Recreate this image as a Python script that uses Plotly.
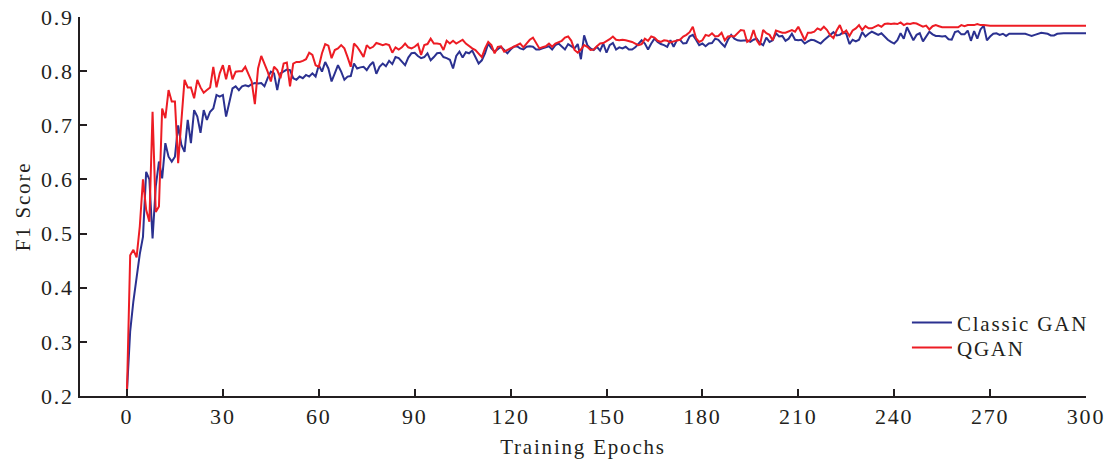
import plotly.graph_objects as go

# Training epochs 0..300
epochs = list(range(0, 301))

# F1 score per epoch, Classic GAN
classic_gan = [
    0.21, 0.32, 0.375, 0.42, 0.462, 0.494, 0.614, 0.60, 0.491, 0.587,
    0.633, 0.602, 0.667, 0.642, 0.633, 0.642, 0.70, 0.664, 0.651, 0.71,
    0.667, 0.728, 0.716, 0.686, 0.728, 0.71, 0.725, 0.731, 0.756, 0.753,
    0.756, 0.716, 0.744, 0.768, 0.772, 0.765, 0.772, 0.774, 0.772, 0.776,
    0.778, 0.777, 0.778, 0.772, 0.787, 0.799, 0.796, 0.765, 0.796, 0.799,
    0.803, 0.802, 0.787, 0.784, 0.79, 0.787, 0.793, 0.79, 0.796, 0.79,
    0.811, 0.799, 0.817, 0.805, 0.781, 0.796, 0.811, 0.799, 0.784, 0.79,
    0.791, 0.814, 0.805, 0.807, 0.808, 0.802, 0.811, 0.817, 0.795, 0.808,
    0.814, 0.809, 0.819, 0.813, 0.826, 0.824, 0.817, 0.811, 0.825, 0.833,
    0.834, 0.828, 0.824, 0.826, 0.833, 0.82, 0.826, 0.833, 0.834, 0.826,
    0.824, 0.821, 0.805, 0.828, 0.836, 0.825, 0.835, 0.833, 0.838, 0.826,
    0.814, 0.82, 0.833, 0.851, 0.842, 0.836, 0.84, 0.845, 0.839, 0.833,
    0.84, 0.845, 0.846, 0.842, 0.84, 0.845, 0.846, 0.845, 0.84, 0.84,
    0.842, 0.844, 0.846, 0.84, 0.848, 0.851, 0.845, 0.84, 0.85, 0.846,
    0.842, 0.85, 0.822, 0.866, 0.848, 0.842, 0.839, 0.845, 0.838, 0.851,
    0.834, 0.848, 0.852, 0.84, 0.844, 0.842, 0.845, 0.84, 0.84, 0.844,
    0.851, 0.857, 0.851, 0.84, 0.851, 0.86, 0.854, 0.85, 0.848, 0.845,
    0.857, 0.845, 0.857, 0.858, 0.851, 0.852, 0.864, 0.867, 0.858, 0.848,
    0.851, 0.846, 0.851, 0.852, 0.86, 0.858, 0.851, 0.845, 0.858, 0.867,
    0.86, 0.857, 0.856, 0.856, 0.857, 0.854, 0.858, 0.86, 0.852, 0.848,
    0.862, 0.854, 0.857, 0.87, 0.864, 0.865, 0.856, 0.86, 0.869, 0.858,
    0.857, 0.858, 0.851, 0.855, 0.858, 0.857, 0.854, 0.851, 0.857, 0.862,
    0.867, 0.872, 0.866, 0.867, 0.872, 0.869, 0.85, 0.858, 0.855, 0.858,
    0.872, 0.864, 0.869, 0.873, 0.87, 0.867, 0.87, 0.864, 0.858, 0.854,
    0.851, 0.857, 0.87, 0.86, 0.881, 0.869, 0.857, 0.867, 0.87, 0.855,
    0.865, 0.873, 0.868, 0.865, 0.865, 0.864, 0.865, 0.859, 0.858, 0.872,
    0.874, 0.868, 0.868, 0.875, 0.856, 0.874, 0.86, 0.877, 0.884, 0.857,
    0.864, 0.869, 0.87, 0.867, 0.869, 0.865, 0.869, 0.869, 0.87, 0.869,
    0.87, 0.869, 0.867, 0.865, 0.867, 0.869, 0.871, 0.87, 0.869, 0.866,
    0.866, 0.869, 0.87, 0.87, 0.87, 0.87, 0.87, 0.87, 0.87, 0.87,
    0.87,
]

# F1 score per epoch, QGAN
qgan = [
    0.21, 0.46, 0.47, 0.456, 0.513, 0.60, 0.544, 0.522, 0.725, 0.54,
    0.55, 0.731, 0.713, 0.765, 0.744, 0.744, 0.63, 0.70, 0.784, 0.77,
    0.77, 0.75, 0.784, 0.77, 0.76, 0.765, 0.77, 0.808, 0.77, 0.796,
    0.811, 0.785, 0.811, 0.785, 0.799, 0.80, 0.80, 0.808, 0.796, 0.781,
    0.739, 0.805, 0.828, 0.814, 0.799, 0.781, 0.808, 0.802, 0.787, 0.814,
    0.816, 0.772, 0.814, 0.817, 0.817, 0.819, 0.822, 0.834, 0.83, 0.811,
    0.808, 0.833, 0.85, 0.847, 0.824, 0.839, 0.842, 0.848, 0.842, 0.826,
    0.808, 0.851, 0.845, 0.836, 0.826, 0.848, 0.842, 0.845, 0.852, 0.85,
    0.848, 0.85, 0.848, 0.834, 0.844, 0.84, 0.844, 0.851, 0.844, 0.842,
    0.845, 0.85, 0.83, 0.848, 0.85, 0.86, 0.851, 0.851, 0.85, 0.839,
    0.856, 0.851, 0.856, 0.851, 0.854, 0.858, 0.851, 0.846, 0.842, 0.839,
    0.833, 0.826, 0.842, 0.854, 0.848, 0.833, 0.845, 0.846, 0.836, 0.839,
    0.842, 0.846, 0.848, 0.851, 0.844, 0.851, 0.858, 0.862, 0.852, 0.842,
    0.844, 0.846, 0.851, 0.845, 0.851, 0.854, 0.856, 0.862, 0.864, 0.856,
    0.839, 0.834, 0.84, 0.848, 0.845, 0.839, 0.84, 0.846, 0.851, 0.852,
    0.855, 0.859, 0.864, 0.858, 0.857, 0.858, 0.857, 0.856, 0.854, 0.851,
    0.848, 0.85, 0.86, 0.856, 0.864, 0.862, 0.856, 0.854, 0.857, 0.856,
    0.853, 0.855, 0.857, 0.858, 0.864, 0.867, 0.872, 0.882, 0.861, 0.854,
    0.857, 0.867, 0.865, 0.87, 0.864, 0.865, 0.871, 0.857, 0.864, 0.865,
    0.864, 0.871, 0.876, 0.875, 0.854, 0.858, 0.876, 0.857, 0.848, 0.876,
    0.87, 0.867, 0.857, 0.875, 0.873, 0.871, 0.871, 0.873, 0.876, 0.873,
    0.882, 0.87, 0.857, 0.871, 0.871, 0.873, 0.879, 0.876, 0.882, 0.876,
    0.866, 0.861, 0.875, 0.885, 0.87, 0.875, 0.865, 0.875, 0.879, 0.885,
    0.876, 0.883, 0.879, 0.879, 0.882, 0.885, 0.882, 0.887, 0.888, 0.887,
    0.888, 0.887, 0.89, 0.885, 0.888, 0.887, 0.889, 0.888, 0.885, 0.882,
    0.884, 0.877, 0.883, 0.885, 0.883, 0.881, 0.881, 0.881, 0.881, 0.881,
    0.881, 0.885, 0.883, 0.885, 0.885, 0.885, 0.887, 0.885, 0.885, 0.884,
    0.884, 0.884, 0.884, 0.884, 0.884, 0.884, 0.884, 0.884, 0.884, 0.884,
    0.884, 0.884, 0.884, 0.884, 0.884, 0.884, 0.884, 0.884, 0.884, 0.884,
    0.884, 0.884, 0.884, 0.884, 0.884, 0.884, 0.884, 0.884, 0.884, 0.884,
    0.884,
]

x_ticks = [0, 30, 60, 90, 120, 150, 180, 210, 240, 270, 300]
y_ticks = [0.2, 0.3, 0.4, 0.5, 0.6, 0.7, 0.8, 0.9]

FONT = "Liberation Serif"
AXIS_COLOR = "#231f20"

fig = go.Figure()
fig.add_trace(go.Scatter(
    x=epochs, y=classic_gan, mode="lines", name="Classic GAN",
    line=dict(color="#2b3190", width=2), legend="legend",
))
fig.add_trace(go.Scatter(
    x=epochs, y=qgan, mode="lines", name="QGAN",
    line=dict(color="#ed1c24", width=2), legend="legend2",
))

legend_style = dict(
    xanchor="left", yanchor="middle",
    bgcolor="rgba(0,0,0,0)", borderwidth=0,
    font=dict(family=FONT, size=21, color=AXIS_COLOR),
    itemwidth=40,
)

fig.update_layout(
    width=1110, height=459,
    margin=dict(l=80, r=24, t=17, b=63),
    paper_bgcolor="white", plot_bgcolor="white",
    font=dict(family=FONT, size=22, color=AXIS_COLOR),
    showlegend=True,
    legend=dict(x=0.822, y=0.193, **legend_style),
    legend2=dict(x=0.822, y=0.127, **legend_style),
)

fig.update_xaxes(
    range=[-14.7, 300], automargin=False,
    tickmode="array", tickvals=x_ticks, ticktext=[str(t) for t in x_ticks],
    ticks="inside", ticklen=7, tickwidth=1.5, tickcolor=AXIS_COLOR,
    showline=True, linecolor=AXIS_COLOR, linewidth=1.5,
    showgrid=False, zeroline=False,
    tickfont=dict(family=FONT, size=22, color=AXIS_COLOR),
    title=dict(text="Training Epochs", standoff=12,
               font=dict(family=FONT, size=21, color=AXIS_COLOR)),
)
fig.update_yaxes(
    range=[0.2, 0.9], automargin=False,
    tickmode="array", tickvals=y_ticks, ticktext=[f"{t:.1f}" for t in y_ticks],
    ticks="inside", ticklen=7, tickwidth=1.5, tickcolor=AXIS_COLOR,
    showline=True, linecolor=AXIS_COLOR, linewidth=1.5,
    showgrid=False, zeroline=False,
    tickfont=dict(family=FONT, size=22, color=AXIS_COLOR),
    title=dict(text="F1 Score", standoff=10,
               font=dict(family=FONT, size=21, color=AXIS_COLOR)),
)

# Slightly wider letter tracking for all chart text; legend boxes are
# unclipped so the wider entries stay fully visible
tracking_js = (
    "document.querySelectorAll('.main-svg text').forEach(function(t){"
    "t.style.letterSpacing='1.8px';});"
    "document.querySelectorAll('.legend [clip-path]').forEach(function(g){"
    "g.removeAttribute('clip-path');});"
)

fig.write_html("out.html", post_script=tracking_js)
